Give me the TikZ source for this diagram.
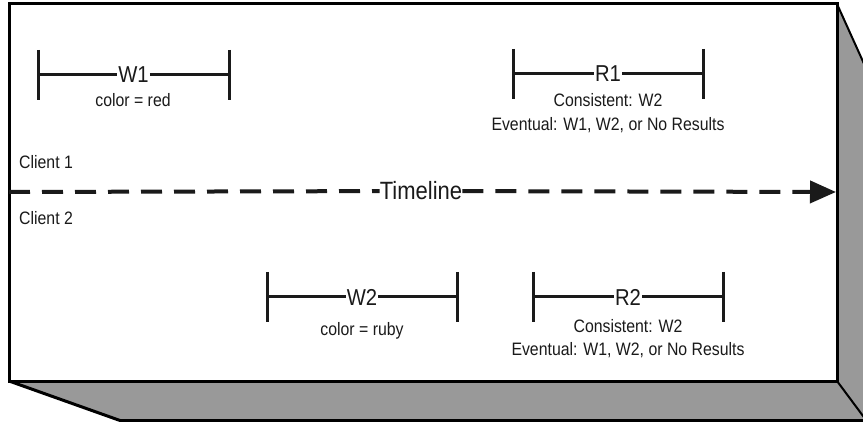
\documentclass[tikz,border=0pt]{standalone}
\usepackage{fontspec}
\setmainfont{Liberation Sans}[FakeStretch=0.88]
\usepackage{tikz}
\usetikzlibrary{arrows.meta,positioning,calc}
\definecolor{inkcol}{HTML}{1A1A1A}
\definecolor{shadecol}{HTML}{999999}
\tikzset{
  ivline/.style={line width=3pt,inkcol},
  ivlbl/.style={font=\fontsize{23}{26}\selectfont,text=inkcol,inner sep=1pt},
  ivnote/.style={font=\fontsize{18}{23.5}\selectfont,text=inkcol,align=center,inner sep=0pt},
  clientlbl/.style={font=\fontsize{18}{22}\selectfont,text=inkcol,anchor=west,inner sep=0pt},
}
% interval bar: name, left x, right x, y, label
\newcommand{\ivbar}[5]{\coordinate (#1l) at (#2,#4); \coordinate (#1r) at (#3,#4);
\node[ivlbl] (#1) at ($(#1l)!0.5!(#1r)$) {#5};
\draw[ivline] (#1l) -- (#1) -- (#1r);
\draw[ivline] ([yshift=25]#1l) -- ([yshift=-25]#1l);
\draw[ivline] ([yshift=25]#1r) -- ([yshift=-25]#1r);}

\begin{document}
\begin{tikzpicture}[x=1pt,y=-1pt]
\useasboundingbox (0,0) rectangle (863,422);
% shadow of the box
\fill[shadecol] (9,381) -- (837,381) -- (837,4) -- (863,62) -- (870,62) -- (870,420) -- (120,420) -- cycle;
\draw[line width=2pt] (837,4) -- (870,77);
\draw[line width=2pt] (837,381) -- (866,420);
\draw[line width=3pt] (9,381) -- (120,420.5) -- (870,420.5);
\draw[line width=3pt,fill=white] (9,4) rectangle (837,381);

\node[clientlbl] (c1) at (19,162) {Client 1};
\node[clientlbl] (c2) at (19,218) {Client 2};

\coordinate (tls) at (9,192);
\coordinate (tle) at (836,192);
\node[ivlbl,inner sep=0pt,font=\fontsize{25}{28}\selectfont] (tline) at (421,191) {Timeline};
\draw[line width=4pt,inkcol,dash pattern=on 21pt off 12pt] (tls) -- (tline);
\draw[line width=4pt,inkcol,dash pattern=on 21pt off 12pt,-{Triangle[length=26pt,width=22pt]}] (tline) -- (tle);

\ivbar{W1}{38}{229}{75}{W1}
\node[ivnote] (W1n) at (133,100) {color = red};
\ivbar{R1}{513}{703}{74}{R1}
\node[ivnote] (R1n) at (608,113) {Consistent: W2\\Eventual: W1, W2, or No Results};
\ivbar{W2}{267}{457}{297}{W2}
\node[ivnote] (W2n) at (362,331) {color = ruby};
\ivbar{R2}{533}{723}{297}{R2}
\node[ivnote] (R2n) at (628,338.5) {Consistent: W2\\Eventual: W1, W2, or No Results};
\end{tikzpicture}
\end{document}
